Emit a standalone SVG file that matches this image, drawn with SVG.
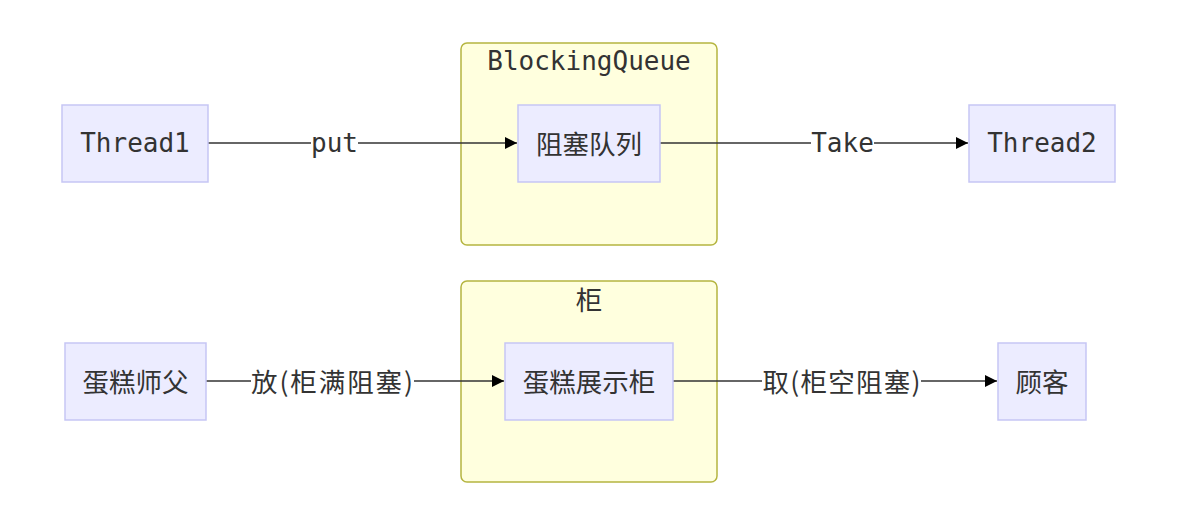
<svg xmlns="http://www.w3.org/2000/svg" width="1194" height="523" viewBox="0 0 1194 523">
<defs>
<style>
.cluster{fill:#ffffde;stroke:#b5b540;stroke-width:1.5}
.node{fill:#ececff;stroke:#c6c6f5;stroke-width:1.5}
.mono{font-family:"DejaVu Sans Mono","Liberation Mono",monospace;font-size:26px;fill:#333}
.cjk{font-family:"Noto Sans CJK SC","Noto Sans",sans-serif;font-size:26.5px;fill:#333}
text{text-anchor:middle;dominant-baseline:central}
.edge{stroke:#333;stroke-width:1.6;fill:none}
.lblbg{fill:#ffffff}
</style>
<marker id="arrow" viewBox="0 0 10 10" refX="10" refY="5" markerWidth="12" markerHeight="12" markerUnits="userSpaceOnUse" orient="auto">
<path d="M0,0 L10,5 L0,10 z" fill="#000"/>
</marker>
</defs>
<rect width="1194" height="523" fill="#ffffff"/>

<g id="cluster-BlockingQueue">
<rect class="cluster" x="461" y="43" width="256" height="202" rx="6" ry="6"/>
<text class="mono" x="589" y="61">BlockingQueue</text>
</g>
<g id="cluster-gui">
<rect class="cluster" x="461" y="281" width="256" height="201" rx="6" ry="6"/>
<text class="cjk" x="589" y="298">柜</text>
</g>

<g id="connectors">
<path class="edge" d="M208,143 L517,143" marker-end="url(#arrow)"/>
<path class="edge" d="M660,143 L968,143" marker-end="url(#arrow)"/>
<path class="edge" d="M206,381 L504,381" marker-end="url(#arrow)"/>
<path class="edge" d="M673,381 L997,381" marker-end="url(#arrow)"/>
<rect class="lblbg" x="311" y="130" width="47" height="26"/>
<text class="mono" x="334.5" y="143">put</text>
<rect class="lblbg" x="811" y="130" width="63" height="26"/>
<text class="mono" x="842.5" y="143">Take</text>
<rect class="lblbg" x="251" y="366" width="163" height="30"/>
<text class="cjk" x="332" y="380" textLength="162" lengthAdjust="spacing">放(柜满阻塞)</text>
<rect class="lblbg" x="762" y="366" width="159" height="30"/>
<text class="cjk" x="841.5" y="380" textLength="158" lengthAdjust="spacing">取(柜空阻塞)</text>
</g>

<g id="Thread1">
<rect class="node" x="62" y="105" width="146" height="77"/>
<text class="mono" x="135" y="143">Thread1</text>
</g>
<g id="zusheduilie">
<rect class="node" x="518" y="105" width="142" height="77"/>
<text class="cjk" x="589" y="142">阻塞队列</text>
</g>
<g id="Thread2">
<rect class="node" x="969" y="105" width="146" height="77"/>
<text class="mono" x="1042" y="143">Thread2</text>
</g>
<g id="dangaoshifu">
<rect class="node" x="65" y="343" width="141" height="77"/>
<text class="cjk" x="135.5" y="380">蛋糕师父</text>
</g>
<g id="dangaozhanshigui">
<rect class="node" x="505" y="343" width="168" height="77"/>
<text class="cjk" x="589" y="380">蛋糕展示柜</text>
</g>
<g id="guke">
<rect class="node" x="998" y="343" width="88" height="77"/>
<text class="cjk" x="1042" y="380">顾客</text>
</g>
</svg>
